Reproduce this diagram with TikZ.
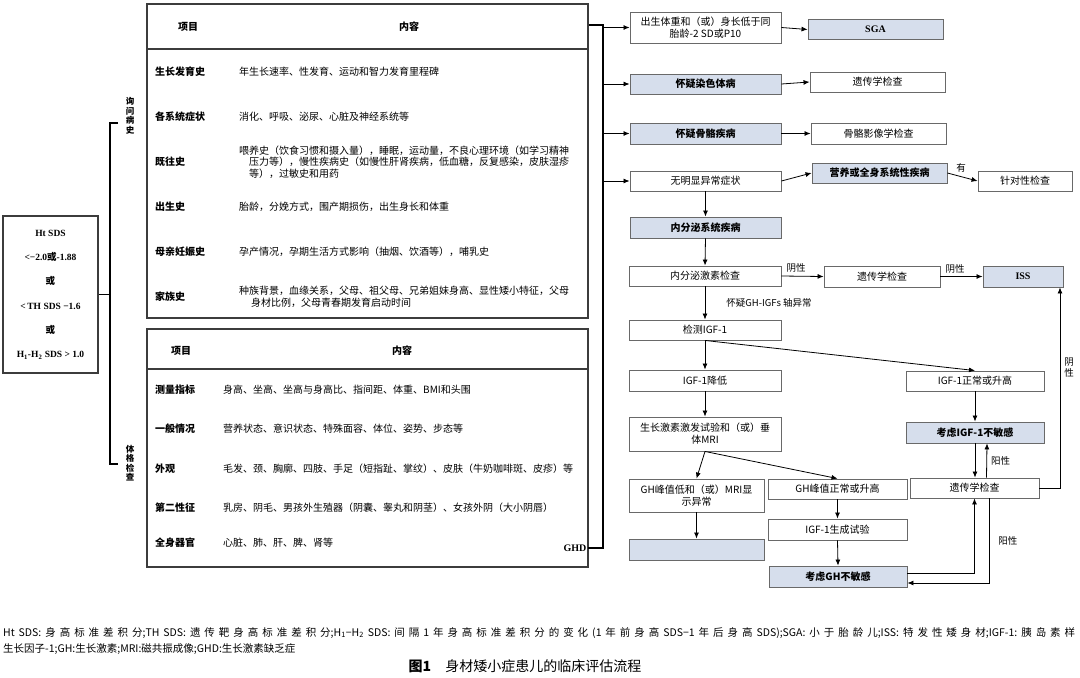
\documentclass[tikz,border=0pt]{standalone}
\usepackage{fontspec}
\setmainfont{Noto Sans CJK SC}
\newfontfamily\tnr{Liberation Serif}
\usetikzlibrary{arrows.meta}
\XeTeXlinebreaklocale "zh"
\XeTeXlinebreakskip=0pt plus 3pt

\definecolor{boxblue}{RGB}{214,222,236}
\definecolor{boxline}{RGB}{105,105,105}
\definecolor{tblline}{RGB}{60,60,60}

\tikzset{
  flow/.style={draw=boxline, line width=0.9pt, minimum width=151pt, minimum height=20pt,
    inner sep=1pt, align=center, font=\fontsize{10}{12}\selectfont},
  flowhl/.style={flow, fill=boxblue, font=\fontsize{10}{12}\selectfont\bfseries},
  arr/.style={-{Latex[length=6pt,width=5pt]}, line width=0.8pt},
  brk/.style={line width=1.4pt},
  lbl/.style={font=\fontsize{9.5}{11}\selectfont, inner sep=1pt},
  cell/.style={anchor=west, inner sep=0pt, align=left, font=\fontsize{10}{11.5}\selectfont},
  cellhd/.style={inner sep=0pt, font=\fontsize{10}{12}\selectfont\bfseries},
  tbl/.style={draw=tblline, line width=1.4pt},
}

\begin{document}
\begin{tikzpicture}[x=1pt, y=-1pt]
  \useasboundingbox[fill=white] (0,0) rectangle (1080,678);

  % 左侧入口
  \node[tbl, line width=1.2pt, minimum width=95pt, minimum height=157pt, align=center,
    font=\tnr\bfseries\fontsize{9.5}{24.4}\selectfont] (ht) at (50.5,294.5)
    {Ht SDS\\<−2.0{\rmfamily 或}-1.88\\{\rmfamily 或}\\<\,TH SDS −1.6\\{\rmfamily 或}\\H\textsubscript{1}-H\textsubscript{2} SDS > 1.0};

  \coordinate (lb) at (110,294.5);
  \coordinate (lt) at (110,123);
  \coordinate (lbt) at (110,464);
  \draw[brk] (ht.east) -- (lb);
  \draw[brk] ([xshift=8pt]lt) -- (lt) -- (lbt) -- ([xshift=8pt]lbt);
  \node[align=center, inner sep=0pt, font=\fontsize{8.5}{9.5}\selectfont\bfseries] (lq) at (130,116) {询\\问\\病\\史};
  \node[align=center, inner sep=0pt, font=\fontsize{8.5}{9.5}\selectfont\bfseries] (lp) at (130,463) {体\\格\\检\\查};

  % 询问病史表
  \node[tbl, minimum width=441pt, minimum height=314pt] (hist) at (367.5,161) {};
  \draw[tbl] (hist.west |- 0,49) -- (hist.east |- 0,49);
  \node[cellhd] (hh1) at (188,27) {项目};
  \node[cellhd] (hh2) at (409,27) {内容};
  \foreach \y/\lab/\txt [count=\i] in {
      72/生长发育史/年生长速率、性发育、运动和智力发育里程碑,
      117/各系统症状/消化、呼吸、泌尿、心脏及神经系统等,
      162/既往史/{喂养史（饮食习惯和摄入量），睡眠，运动量，不良心理环境（如学习精神\\\hspace*{10pt}压力等），慢性疾病史（如慢性肝肾疾病，低血糖，反复感染，皮肤湿疹\\\hspace*{10pt}等），过敏史和用药},
      207/出生史/胎龄，分娩方式，围产期损伤，出生身长和体重,
      252/母亲妊娠史/孕产情况，孕期生活方式影响（抽烟、饮酒等），哺乳史,
      297/家族史/{种族背景，血缘关系，父母、祖父母、兄弟姐妹身高、显性矮小特征，父母\\\hspace*{12pt}身材比例，父母青春期发育启动时间}} {
    \node[cell, font=\fontsize{10}{12}\selectfont\bfseries] (hl\i) at (155,\y) {\lab};
    \node[cell] (hc\i) at (239,\y) {\txt};
  }

  % 体格检查表
  \node[tbl, minimum width=441pt, minimum height=238pt] (exam) at (367.5,448) {};
  \draw[tbl] (exam.west |- 0,369) -- (exam.east |- 0,369);
  \node[cellhd] (eh1) at (181,351) {项目};
  \node[cellhd] (eh2) at (402,351) {内容};
  \foreach \y/\lab/\txt [count=\i] in {
      390/测量指标/身高、坐高、坐高与身高比、指间距、体重、BMI和头围,
      429/一般情况/营养状态、意识状态、特殊面容、体位、姿势、步态等,
      469/外观/毛发、颈、胸廓、四肢、手足（短指趾、掌纹）、皮肤（牛奶咖啡斑、皮疹）等,
      508/第二性征/乳房、阴毛、男孩外生殖器（阴囊、睾丸和阴茎）、女孩外阴（大小阴唇）,
      543/全身器官/心脏、肺、肝、脾、肾等} {
    \node[cell, font=\fontsize{10}{12}\selectfont\bfseries] (el\i) at (155,\y) {\lab};
    \node[cell] (ec\i) at (223,\y) {\txt};
  }
  \node[anchor=east, inner sep=1.5pt, font=\tnr\bfseries\fontsize{10}{12}\selectfont] (ghd) at (588,548) {GHD};

  % 右侧汇总线
  \coordinate (rt) at (603,25);
  \coordinate (rb) at (603,548);
  \draw[brk] (hist.east |- rt) -- (rt) -- (rb) -- (ghd.east);

  % 流程框
  \node[flow, minimum height=31pt] (a1) at (705.5,27.5) {出生体重和（或）身长低于同\\胎龄-2 SD或P10};
  \node[flowhl, minimum width=135pt, font=\tnr\bfseries\fontsize{10}{12}\selectfont] (sga) at (875.5,29.5) {SGA};
  \node[flowhl] (a2) at (705.5,84) {怀疑染色体病};
  \node[flow, minimum width=135pt] (g1) at (877.5,82) {遗传学检查};
  \node[flowhl, minimum height=21pt] (a3) at (705.5,133.5) {怀疑骨骼疾病};
  \node[flow, minimum width=135pt, minimum height=21pt] (g2) at (878.5,133.5) {骨骼影像学检查};
  \node[flow] (a4) at (705.5,181) {无明显异常症状};
  \node[flowhl, minimum width=135pt] (nut) at (879.5,173) {营养或全身系统性疾病};
  \node[flow, minimum width=94pt] (tgt) at (1025,181) {针对性检查};
  \node[flowhl, minimum height=21pt] (endo) at (705.5,227.5) {内分泌系统疾病};
  \node[flow, minimum width=152pt] (hor) at (705,276) {内分泌激素检查};
  \node[flow, minimum width=116pt, minimum height=21pt] (gen2) at (882,276.5) {遗传学检查};
  \node[flowhl, minimum width=80pt, minimum height=21pt, font=\tnr\bfseries\fontsize{10}{12}\selectfont] (iss) at (1023,276.5) {ISS};
  \node[flow, minimum width=152pt] (igf) at (705,330) {检测IGF-1};
  \node[flow, minimum width=152pt, minimum height=21pt] (low) at (705,380.5) {IGF-1降低};
  \node[flow, minimum width=138pt] (norm) at (975,381) {IGF-1正常或升高};
  \node[flowhl, minimum width=138pt, minimum height=21pt] (insens) at (975,432.5) {考虑IGF-1不敏感};
  \node[flow, minimum width=152pt, minimum height=34pt] (stim) at (705,434) {生长激素激发试验和（或）垂\\体MRI};
  \node[flow, minimum width=135pt, minimum height=33pt] (ghlow) at (696.5,495.5) {GH峰值低和（或）MRI显\\示异常};
  \node[flow, minimum width=139pt] (ghnorm) at (837.5,489) {GH峰值正常或升高};
  \node[flowhl, minimum width=135pt, minimum height=21pt] (blank) at (696.5,549.5) {};
  \node[flow, minimum width=139pt, minimum height=21pt] (gent) at (837.5,529.5) {IGF-1生成试验};
  \node[flowhl, minimum width=138pt, minimum height=21pt] (ghins) at (838,576.5) {考虑GH不敏感};
  \node[flow, minimum width=129pt] (gen3) at (974.5,488) {遗传学检查};

  % 连线
  \foreach \b in {a1,a2,a3,a4}
    \draw[arr] (rt |- \b.west) -- (\b.west);
  \draw[arr] (a1.east) -- (sga.west);
  \draw[arr] (a2.east) -- (g1.west);
  \draw[arr] (a3.east) -- (g2.west);
  \draw[arr] (a4.east) -- (nut.west);
  \draw[arr] (nut.east) -- node[lbl, above=3pt, pos=0.45] {有} (tgt.west);
  \draw[arr] (a4.south) -- (endo.north);
  \draw[arr] (endo.south) -- (hor.north);
  \draw[arr] (hor.east) -- node[lbl, above=2pt, pos=0.35] {阴性} (gen2.west);
  \draw[arr] (gen2.east) -- node[lbl, above=2pt, pos=0.35] {阴性} (iss.west);
  \draw[arr] (hor.south) -- node[lbl, right=20pt] {怀疑GH-IGFs 轴异常} (igf.north);
  \draw[arr] (igf.south) -- (low.north);
  \draw[arr] (igf.south) -- (norm.north);
  \draw[arr] (low.south) -- (stim.north);
  \draw[arr] (norm.south) -- (insens.north);
  \draw[arr] (stim.south) -- (ghlow.north);
  \draw[arr] (stim.south) -- (ghnorm.north);
  \draw[arr] (ghlow.south) -- (blank.north);
  \draw[arr] (ghnorm.south) -- (gent.north);
  \draw[arr] (gent.south) -- (ghins.north);
  \draw[arr] (insens.south) -- (insens.south |- gen3.north);
  \draw[arr] ([xshift=12pt]gen3.north) -- node[lbl, right=3pt] {阳性} ([xshift=12pt]insens.south);
  \draw[arr] (gen3.east) -| node[lbl, right=3pt, pos=0.8, align=center, font=\fontsize{9.5}{10.5}\selectfont] {阴\\性} ([xshift=37pt]iss.south);
  \draw[arr] ([yshift=3.5pt]ghins.east) -| (gen3.south);
  \draw[arr] ([xshift=14.5pt]gen3.south) |- node[lbl, right=8pt, pos=0.25] {阳性} ([yshift=-6.5pt]ghins.east);

  % 注释与图题
  \node[anchor=base west, inner sep=0pt, text width=1072pt, align=justify,
    font=\fontsize{10.5}{16}\selectfont] (note) at (3,636)
    {Ht SDS:身高标准差积分;TH SDS:遗传靶身高标准差积分;H\textsubscript{1}−H\textsubscript{2} SDS:间隔 1 年身高标准差积分的变化(1 年前身高SDS−1 年后身高SDS);SGA:小于胎龄儿;ISS:特发性矮身材;IGF-1:胰岛素样\linebreak
     生长因子-1;GH:生长激素;MRI:磁共振成像;GHD:生长激素缺乏症};
  \node[inner sep=0pt, font=\fontsize{14}{16}\selectfont] (cap) at (525,666)
    {\textbf{图1}\quad 身材矮小症患儿的临床评估流程};
\end{tikzpicture}
\end{document}
